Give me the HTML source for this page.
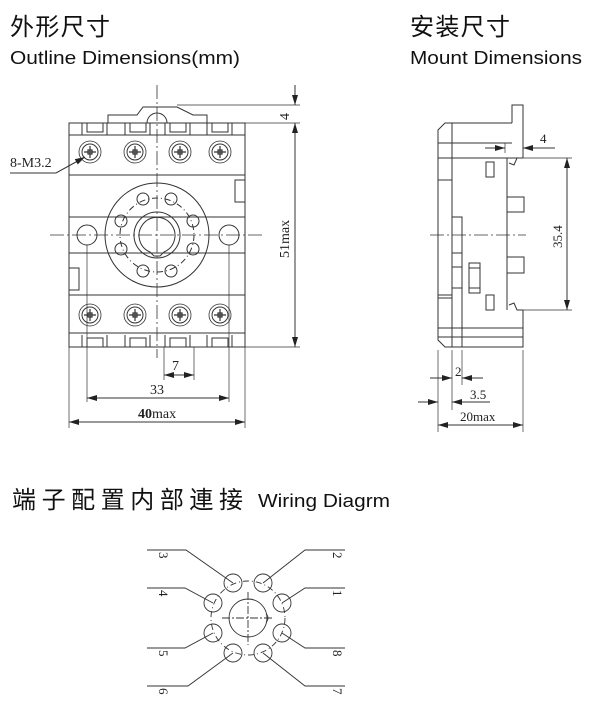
<!DOCTYPE html>
<html><head><meta charset="utf-8"><style>
html,body{margin:0;padding:0;background:#fff;width:600px;height:702px;overflow:hidden}
svg{display:block}
.t{font-family:"Liberation Serif",serif;fill:#222}
</style></head><body>
<svg width="600" height="702" viewBox="0 0 600 702" xmlns="http://www.w3.org/2000/svg">
<defs>
<marker id="a" viewBox="0 0 10 6" refX="10" refY="3" markerWidth="10" markerHeight="6" orient="auto-start-reverse" markerUnits="userSpaceOnUse"><path d="M0,0 L10,3 L0,6 z" fill="#222"/></marker>
<g id="scr"><circle r="11" fill="none" stroke="#333" stroke-width="0.8"/><circle r="8" fill="none" stroke="#333" stroke-width="1"/><path d="M-6,0H6M0,-6V6M-2,-2h4v4h-4z" stroke="#333" stroke-width="1.2" fill="none"/></g>
</defs>
<g font-family="'Liberation Sans','Noto Sans CJK SC',sans-serif" fill="#111">
<text x="10" y="35" font-size="24" textLength="100">外形尺寸</text>
<text x="10" y="64" font-size="18" textLength="230" lengthAdjust="spacingAndGlyphs">Outline Dimensions(mm)</text>
<text x="410" y="35" font-size="24" textLength="100">安装尺寸</text>
<text x="410" y="64" font-size="18" textLength="172" lengthAdjust="spacingAndGlyphs">Mount Dimensions</text>
<text x="12" y="508" font-size="24" textLength="231">端子配置内部連接</text>
<text x="258" y="507" font-size="18" textLength="132" lengthAdjust="spacingAndGlyphs">Wiring Diagrm</text>
</g>

<g stroke="#333" stroke-width="1" fill="none">
<!-- front view body -->
<rect x="69" y="123" width="176" height="224"/>
<path d="M108,123V115H137L143,107H177L193,115H207V123"/>
<path d="M147,123A10,10 0 0 1 167,123"/>
<path d="M69,135H245M69,175H245M69,217H245M69,253H245M69,295H245M69,333H245"/>
<g>
<path d="M82,123V135M107,123V135M87,123V132H103V123"/>
<path d="M125,123V135M150,123V135M130,123V132H146V123"/>
<path d="M165,123V135M190,123V135M170,123V132H186V123"/>
<path d="M207,123V135M232,123V135M212,123V132H228V123"/>
<path d="M82,347V335M107,347V335M87,347V338H103V347"/>
<path d="M125,347V335M150,347V335M130,347V338H146V347"/>
<path d="M165,347V335M190,347V335M170,347V338H186V347"/>
<path d="M207,347V335M232,347V335M212,347V338H228V347"/>
</g>
<rect x="235" y="180" width="10" height="22"/>
<rect x="69" y="268" width="10" height="22"/>
<circle cx="157" cy="235" r="52"/>
<circle cx="157" cy="235" r="23"/>
<path d="M150,252A18,18 0 1 1 164,252L160,256H154Z"/>
<circle cx="157" cy="235" r="37" stroke-dasharray="6,3,1,3"/>
<g>
<circle cx="143" cy="199" r="6"/><circle cx="171" cy="199" r="6"/>
<circle cx="193" cy="221" r="6"/><circle cx="193" cy="249" r="6"/>
<circle cx="171" cy="271" r="6"/><circle cx="143" cy="271" r="6"/>
<circle cx="121" cy="249" r="6"/><circle cx="121" cy="221" r="6"/>
</g>
<circle cx="87" cy="235" r="10"/><circle cx="229" cy="235" r="10"/>
<path d="M157,85V358M50,235H262" stroke-dasharray="14,3,2,3" stroke-width="0.8"/>
<!-- dims front -->
<path d="M177,105H300M245,123H300M245,347H300M87,245V402M229,245V402M69,347V428M245,347V428M164,347V380M194,347V380" stroke-width="0.7"/>
<path d="M295,85V105" marker-end="url(#a)"/>
<path d="M295,123V347" marker-start="url(#a)" marker-end="url(#a)"/>
<path d="M164,375H194" marker-start="url(#a)" marker-end="url(#a)"/>
<path d="M87,398H229" marker-start="url(#a)" marker-end="url(#a)"/>
<path d="M69,422H245" marker-start="url(#a)" marker-end="url(#a)"/>
<path d="M10,173H56L85,157" marker-end="url(#a)"/>
</g>
<g>
<use href="#scr" x="90" y="152"/><use href="#scr" x="135" y="152"/><use href="#scr" x="180" y="152"/><use href="#scr" x="220" y="152"/>
<use href="#scr" x="90" y="315"/><use href="#scr" x="135" y="315"/><use href="#scr" x="180" y="315"/><use href="#scr" x="220" y="315"/>
</g>
<g class="t" font-size="14">
<text x="10" y="167">8-M3.2</text>
<text x="172" y="370">7</text>
<text x="150" y="394">33</text>
<text x="138" y="418"><tspan font-weight="bold">40</tspan>max</text>
<text transform="translate(289,120) rotate(-90)">4</text>
<text transform="translate(289,258) rotate(-90)">51max</text>
</g>

<!-- side view -->
<g stroke="#333" stroke-width="1" fill="none">
<path d="M512,123V105H523V158"/>
<path d="M512,123H445L438,130V340L445,347H523V310"/>
<path d="M452,123V347M462,217V347M438,143H512M438,158H523M438,328H523M438,337H523"/>
<path d="M438,143V180H452M438,183V228M438,295V298H452M438,295H452"/>
<path d="M452,217H462V253H452M452,267H462M452,288H462"/>
<rect x="469" y="263" width="11" height="30"/>
<path d="M469,268H480M469,288H480"/>
<rect x="486" y="162" width="8" height="15"/>
<rect x="486" y="295" width="8" height="15"/>
<path d="M507,158V310M523,158L517,158L514,165L509,163M523,310L517,310L514,303L509,305"/>
<path d="M507,197H524V212H507M507,257H524V273H507"/>
<path d="M430,235H526" stroke-dasharray="14,3,2,3" stroke-width="0.8"/>
<path d="M505,143V153M523,143V153M523,158H572M523,310H572M438,350V432M452,350V410M462,350V385M523,350V432" stroke-width="0.7"/>
<path d="M485,148H505" marker-end="url(#a)"/><path d="M555,148H523" marker-end="url(#a)"/>
<path d="M567,158V310" marker-start="url(#a)" marker-end="url(#a)"/>
<path d="M430,378H452" marker-end="url(#a)"/><path d="M483,378H462" marker-end="url(#a)"/>
<path d="M418,402H438" marker-end="url(#a)"/><path d="M490,402H452" marker-end="url(#a)"/>
<path d="M438,425H523" marker-start="url(#a)" marker-end="url(#a)"/>
</g>
<g class="t" font-size="13">
<text x="540" y="143">4</text>
<text transform="translate(562,248) rotate(-90)">35.4</text>
<text x="455" y="376">2</text>
<text x="470" y="399">3.5</text>
<text x="460" y="421">20max</text>
</g>

<!-- wiring -->
<g stroke="#333" stroke-width="0.9" fill="none">
<circle cx="248" cy="618" r="19"/>
<path d="M266,614A5,5 0 0 1 266,622"/>
<path d="M222,618H272M248,592V645" stroke-dasharray="8,2,2,2"/>
<circle cx="248" cy="618" r="37" stroke-dasharray="6,3,1,3"/>
<circle cx="233" cy="583" r="9"/><circle cx="263" cy="583" r="9"/>
<circle cx="282" cy="603" r="9"/><circle cx="282" cy="633" r="9"/>
<circle cx="263" cy="653" r="9"/><circle cx="233" cy="653" r="9"/>
<circle cx="213" cy="633" r="9"/><circle cx="213" cy="603" r="9"/>
<path d="M233,583L186,550H147M213,603L185,588H147M213,633L185,648H147M233,653L188,686H147"/>
<path d="M263,583L305,550H345M282,603L305,588H345M282,633L305,648H345M263,653L305,686H345"/>
</g>
<g class="t" font-size="13">
<text transform="translate(159,552) rotate(90)">3</text>
<text transform="translate(159,590) rotate(90)">4</text>
<text transform="translate(159,650) rotate(90)">5</text>
<text transform="translate(159,688) rotate(90)">6</text>
<text transform="translate(333,552) rotate(90)">2</text>
<text transform="translate(333,590) rotate(90)">1</text>
<text transform="translate(333,650) rotate(90)">8</text>
<text transform="translate(333,688) rotate(90)">7</text>
</g>
</svg>
</body></html>
